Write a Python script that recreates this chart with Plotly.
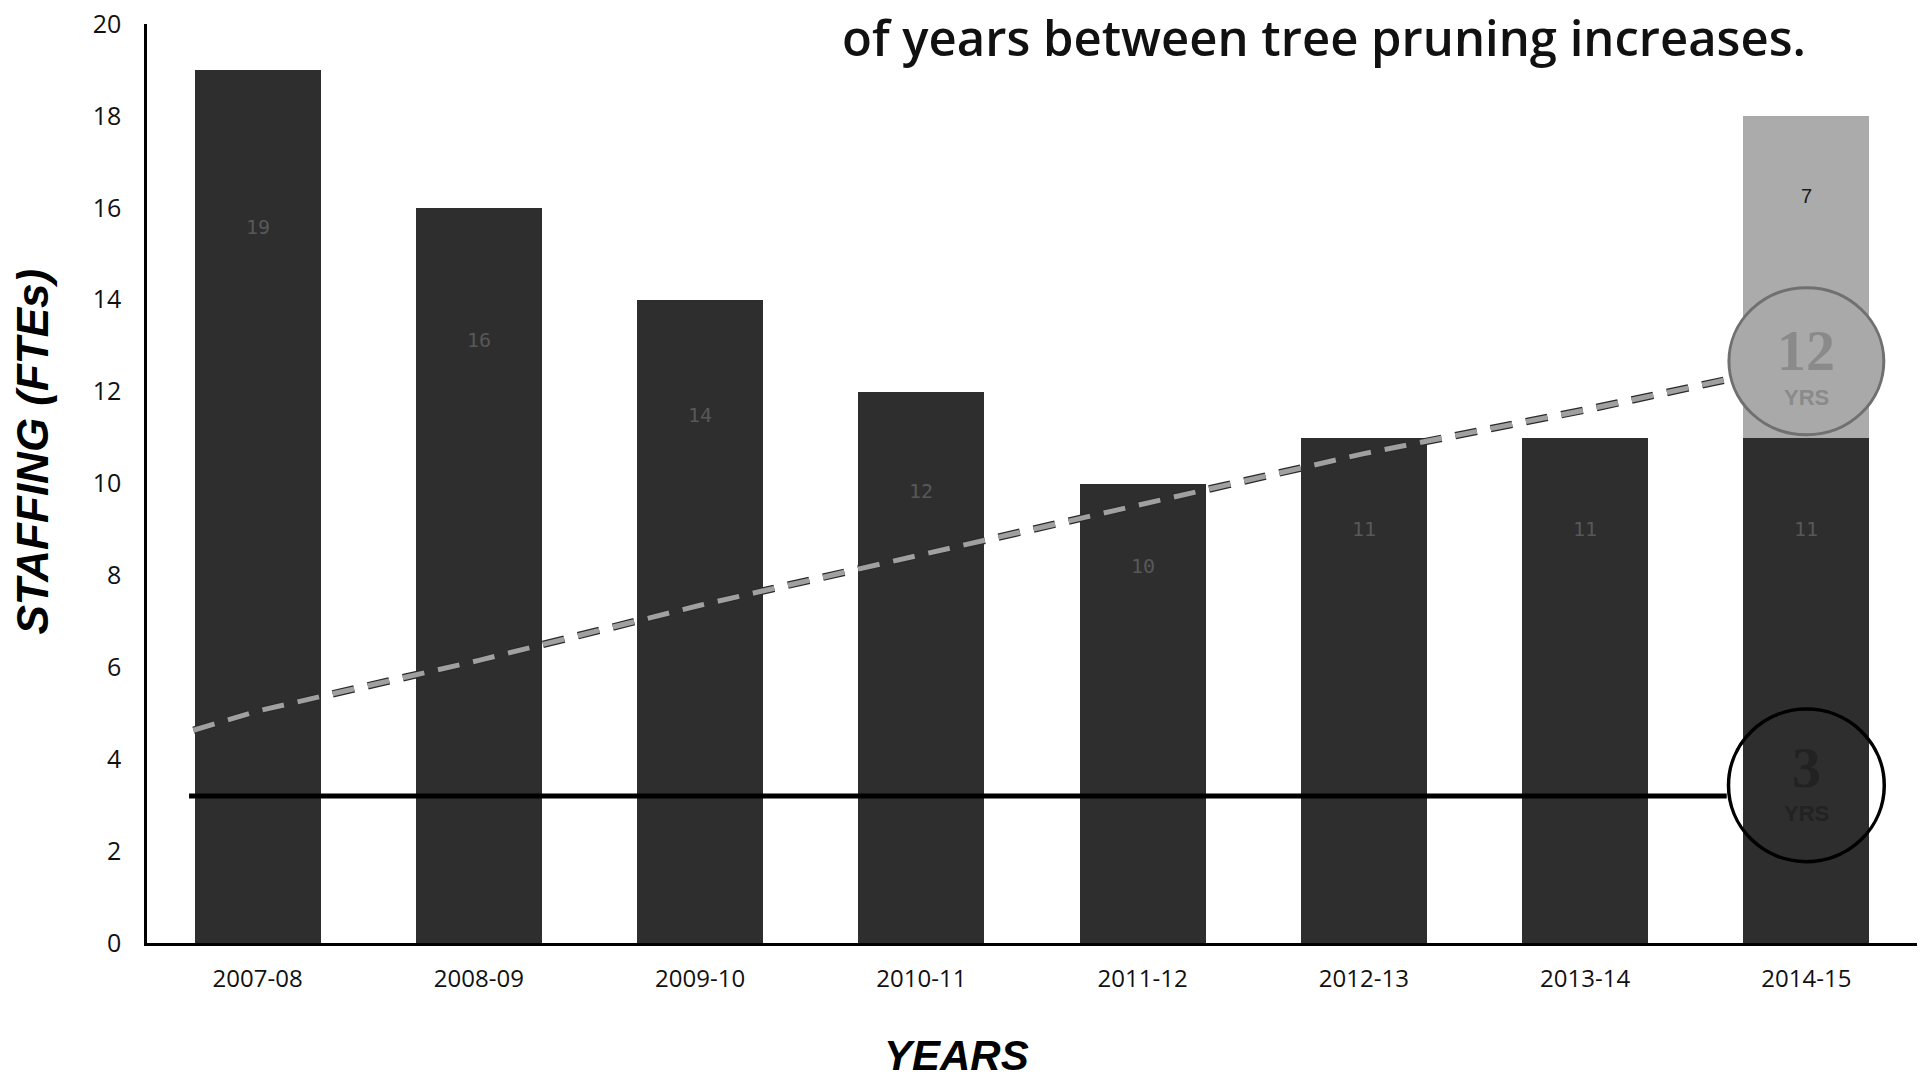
import plotly.graph_objects as go

# ---- data ----
years = ["2007-08", "2008-09", "2009-10", "2010-11", "2011-12", "2012-13", "2013-14", "2014-15"]
staff = [19, 16, 14, 12, 10, 11, 11, 11]
extra_staff = [0, 0, 0, 0, 0, 0, 0, 7]          # light segment on 2014-15
yticks = [0, 2, 4, 6, 8, 10, 12, 14, 16, 18, 20]

# pruning-cycle trend (dashed), x in category units
cycle_x = [-0.29, 0, 1, 2, 3, 4, 5, 6, 6.64]
cycle_y = [4.63, 5.05, 6.15, 7.35, 8.45, 9.55, 10.65, 11.6, 12.26]
# target cycle (solid)
target_x = [-0.31, 6.64]
target_y = [3.2, 3.2]

title_text = "of years between tree pruning increases."

BAR = "#2e2e2e"
LIGHT = "#ababab"

xs = list(range(len(years)))
fig = go.Figure()
fig.add_trace(go.Bar(x=xs, y=staff, width=0.57, marker=dict(color=BAR, line=dict(width=0)),
                     showlegend=False, hoverinfo="skip"))
fig.add_trace(go.Bar(x=xs, y=extra_staff, width=0.57, marker=dict(color=LIGHT, line=dict(width=0)),
                     showlegend=False, hoverinfo="skip"))

# dashed line: dark border + gray core
fig.add_trace(go.Scatter(x=cycle_x, y=cycle_y, mode="lines", line=dict(color="#2a2a2a", width=7.5, dash="22px,14px"),
                         showlegend=False, hoverinfo="skip"))
fig.add_trace(go.Scatter(x=cycle_x, y=cycle_y, mode="lines", line=dict(color="#a0a0a0", width=5, dash="22px,14px"),
                         showlegend=False, hoverinfo="skip"))
fig.add_trace(go.Scatter(x=target_x, y=target_y, mode="lines", line=dict(color="#000000", width=5),
                         showlegend=False, hoverinfo="skip"))

annotations = []
# value labels inside bars
for i, v in enumerate(staff):
    annotations.append(dict(x=i, y=v * 0.82, text=str(v), showarrow=False,
                            font=dict(family="DejaVu Sans Mono", size=20, color="#585858")))
for i, v in enumerate(extra_staff):
    if v:
        annotations.append(dict(x=i, y=staff[i] + v * 0.75, text=str(v), showarrow=False,
                                font=dict(family="Liberation Sans", size=20, color="#1a1a1a")))

last = len(years) - 1
# circles
shapes = [
    dict(type="circle", xref="x", yref="y", x0=last - 0.35, x1=last + 0.35,
         y0=cycle_y[-1] + 0.4 - 1.6, y1=cycle_y[-1] + 0.4 + 1.6,
         fillcolor="#a9a9a9", line=dict(color="#707070", width=3), layer="above"),
    dict(type="circle", xref="x", yref="y", x0=last - 0.352, x1=last + 0.352,
         y0=target_y[-1] + 0.23 - 1.66, y1=target_y[-1] + 0.23 + 1.66,
         fillcolor="rgba(0,0,0,0)", line=dict(color="#000000", width=3.5), layer="above"),
]
# circle texts
annotations += [
    dict(x=last, y=12.9, text="<b>12</b>", showarrow=False,
         font=dict(family="Liberation Serif", size=58, color="#8a8a8a")),
    dict(x=last, y=11.87, text="<b>YRS</b>", showarrow=False,
         font=dict(family="Liberation Sans", size=22, color="#8a8a8a")),
    dict(x=last, y=3.83, text="<b>3</b>", showarrow=False,
         font=dict(family="Liberation Serif", size=58, color="#222222")),
    dict(x=last, y=2.82, text="<b>YRS</b>", showarrow=False,
         font=dict(family="Liberation Sans", size=22, color="#222222")),
]
# title and axis titles
annotations += [
    dict(xref="paper", yref="paper", x=0.665, y=1.0, yshift=-13, text=title_text, showarrow=False,
         xanchor="center", yanchor="middle", borderpad=0,
         font=dict(family="Open Sans", size=49, color="#111111", weight=600)),
    dict(xref="paper", yref="paper", x=0.4576, y=0, yshift=-112, text="<b><i>YEARS</i></b>", showarrow=False,
         xanchor="center", yanchor="middle",
         font=dict(family="Liberation Sans", size=42, color="#000000")),
    dict(xref="paper", yref="paper", x=0, xshift=-114, y=0.5347, text="<b><i>STAFFING (FTEs)</i></b>",
         showarrow=False, textangle=-90, xanchor="center", yanchor="middle",
         font=dict(family="Liberation Sans", size=44, color="#000000")),
]

fig.update_layout(
    width=1923, height=1078,
    margin=dict(l=147, r=6, t=21, b=135),
    paper_bgcolor="white", plot_bgcolor="white",
    barmode="stack", bargap=0.43,
    showlegend=False,
    shapes=shapes, annotations=annotations,
    xaxis=dict(range=[-0.5, 7.5], tickvals=xs, ticktext=years, showgrid=False, zeroline=False,
               showline=True, linecolor="#000000", linewidth=2.5, ticks="", ticklabelstandoff=12,
               tickfont=dict(family="Open Sans", size=24, color="#111111")),
    yaxis=dict(range=[0, 20], tickvals=yticks, showgrid=False, zeroline=False,
               showline=True, linecolor="#000000", linewidth=2.5, ticks="", ticklabelstandoff=18,
               tickfont=dict(family="Open Sans", size=25, color="#111111")),
)

fig.write_html("out.html", config={"displayModeBar": False},
               post_script="document.body.style.margin='0';document.body.style.padding='0';")
